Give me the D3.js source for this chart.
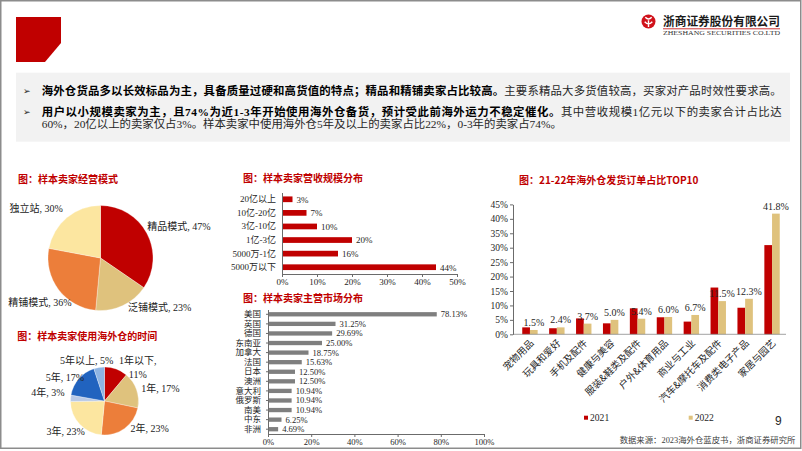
<!DOCTYPE html>
<html><head><meta charset="utf-8">
<script src="https://cdn.jsdelivr.net/npm/d3@7"></script>
<style>
html,body{margin:0;padding:0;background:#fff;}
svg{display:block;}
</style></head><body>
<svg id="c" width="802" height="451"></svg>
<script>
// ---------------- data ----------------
const modeLabels = ["精品模式","泛铺模式","精铺模式","独立站"];
const modeValues = [47,23,36,30];
const revenueCats = ["20亿以上","10亿-20亿","3亿-10亿","1亿-3亿","5000万-1亿","5000万以下"];
const revenueVals = [3,7,10,20,16,44];
const revenueTicks = [0,10,20,30,40,50];
const marketCats = ["美国","英国","德国","东南亚","加拿大","法国","日本","澳洲","意大利","俄罗斯","南美","中东","非洲"];
const marketVals = [78.13,31.25,29.69,25.00,18.75,15.63,12.50,12.50,10.94,10.94,10.94,6.25,4.69];
const marketTicks = [0,20,40,60,80,100];
const timeLabels = ["1年以下","1年","2年","3年","4年","5年","5年以上"];
const timeValues = [11,17,23,23,3,17,5];
const topCats = ["宠物用品","玩具和爱好","手机及配件","健康与美容","服装&鞋类及配件","户外&体育用品","商业与工业","汽车&摩托车及配件","消费类电子产品","家居与园艺"];
const top2021 = [2.4,2.1,5.5,3.8,9.0,5.9,4.4,16.2,9.2,30.9];
const top2022 = [1.5,2.4,3.7,5.0,5.4,6.0,6.7,11.5,12.3,41.8];
const topTicks = [0,5,10,15,20,25,30,35,40,45];
const topSeries = ["2021","2022"];

// ---------------- styles ----------------
const RED="#C00000", TAN="#DFC27D", ORANGE="#EC7E3A", LYEL="#FCE6A0";
const BLUE="#2163BF", LBLUE="#8EB4E3", GBLUE="#B8C9E6";
const serif = "'Liberation Serif','Noto Sans CJK SC',serif";
const cjk = "'Noto Sans CJK SC',sans-serif";
const svg = d3.select("#c");

// frame
svg.append("rect").attr("x",0.75).attr("y",0.75).attr("width",800).attr("height",447.5)
  .attr("fill","none").attr("stroke","#8c8c8c").attr("stroke-width",1.5);
// red corner block
svg.append("path").attr("d","M16,17H61V43L45,62H16Z").attr("fill",RED);

// logo
const lg = svg.append("g").attr("transform","translate(648.5,21.5)");
lg.append("circle").attr("r",7).attr("fill","#D0121B");
lg.append("path").attr("d","M-3.2,-4.2 Q0,-0.8 3.2,-4.2 M-3.8,0.2 Q0,4.6 3.8,0.2 M0,-1.2 V5.5")
  .attr("stroke","#fff").attr("fill","none").attr("stroke-width",1.4);
svg.append("text").attr("x",663).attr("y",26.3).attr("textLength",117).attr("lengthAdjust","spacingAndGlyphs")
  .style("font-family",cjk).style("font-weight","700").style("font-size","12px").attr("fill","#1a1a1a")
  .text("浙商证券股份有限公司");
svg.append("line").attr("x1",663).attr("x2",780).attr("y1",28.8).attr("y2",28.8).attr("stroke",RED).attr("stroke-width",0.8);
svg.append("text").attr("x",663).attr("y",35.3).attr("textLength",117).attr("lengthAdjust","spacingAndGlyphs")
  .style("font-family",serif).style("font-size","5.6px").attr("fill","#333")
  .text("ZHESHANG SECURITIES CO.LTD");

// text box
svg.append("rect").attr("x",16).attr("y",72.7).attr("width",774).attr("height",69).attr("fill","#F2F2F2");
const lines = [
  {y:95, bullet:true, len:740, parts:[["海外仓货品多以长效标品为主，具备质量过硬和高货值的特点；精品和精铺卖家占比较高。",true],["主要系精品大多货值较高，买家对产品时效性要求高。",false]]},
  {y:116, bullet:true, len:740, parts:[["用户以小规模卖家为主，且74%为近1-3年开始使用海外仓备货，预计受此前海外运力不稳定催化。",true],["其中营收规模1亿元以下的卖家合计占比达",false]]},
  {y:127.7, bullet:false, len:null, parts:[["60%，20亿以上的卖家仅占3%。样本卖家中使用海外仓5年及以上的卖家占比22%，0-3年的卖家占74%。",false]]}
];
lines.forEach(l=>{
  if(l.bullet) svg.append("text").attr("x",23).attr("y",l.y-1).style("font-family","'DejaVu Sans'")
    .style("font-size","9px").attr("fill","#222").text("➢");
  const t = svg.append("text").attr("x",41.7).attr("y",l.y).style("font-family",serif)
    .style("font-size","11.4px").attr("fill","#1a1a1a");
  if(l.len) t.attr("textLength",l.len).attr("lengthAdjust","spacing");
  l.parts.forEach(p=>t.append("tspan").style("font-weight",p[1]?"700":"400")
    .attr("fill",p[1]?"#000":"#262626").text(p[0]));
});

// chart titles
function title(x,cy,s){
  svg.append("text").attr("x",x).attr("y",cy+3.6).style("font-family",cjk).style("font-weight","700")
    .style("font-size","10px").attr("fill",RED).text(s);
}
title(18,179,"图：样本卖家经营模式");
title(243,178.3,"图：样本卖家营收规模分布");
title(243,298.3,"图：样本卖家主营市场分布");
title(17.3,336.7,"图：样本卖家使用海外仓的时间");
title(519,180.7,"图：21-22年海外仓发货订单占比TOP10");

// ---------------- pies ----------------
function drawPie(cx,cy,r,labels,values,colors,nudges,wrapIdx){
  const g = svg.append("g").attr("transform",`translate(${cx},${cy})`);
  const arcs = d3.pie().sort(null).value(d=>d)(values);
  const arc = d3.arc().innerRadius(0).outerRadius(r);
  g.selectAll("path").data(arcs).join("path").attr("d",arc)
    .attr("fill",(d,i)=>colors[i]).attr("stroke","#fff").attr("stroke-width",0.3);
  arcs.forEach((a,i)=>{
    const m=(a.startAngle+a.endAngle)/2;
    const dx=Math.sin(m), dy=-Math.cos(m);
    let x=dx*(r+5)+nudges[i][0], y=dy*(r+5)+nudges[i][1];
    const txt = g.append("text").style("font-family",serif).style("font-size","10px").attr("fill","#222");
    if(i===wrapIdx){
      txt.attr("text-anchor","middle");
      txt.append("tspan").attr("x",x).attr("y",y-7+3.5).text(labels[i]+",");
      txt.append("tspan").attr("x",x).attr("y",y+7+3.5).text(values[i]+"%");
    } else {
      txt.attr("x",x).attr("y",y+3.5).attr("text-anchor",dx>=0?"start":"end")
        .text(labels[i]+", "+values[i]+"%");
    }
  });
}
drawPie(100.5,258,52.5,modeLabels,modeValues,[RED,TAN,ORANGE,LYEL],
  [[-4,-5],[3,-3],[17,10],[-1,-5]],-1);
drawPie(104.5,401,34,timeLabels,timeValues,[RED,TAN,ORANGE,LYEL,GBLUE,BLUE,LBLUE],
  [[20,3],[0,0],[3,-4],[9,4],[-1,-5],[9,2],[15,-2.5]],0);

// ---------------- revenue bars ----------------
function styleAxis(g,fs){
  g.selectAll(".domain").attr("stroke","#6b6b6b");
  g.selectAll(".tick line").attr("stroke","#6b6b6b");
  g.selectAll("text").style("font-family",serif).style("font-size",fs).attr("fill","#262626");
}
{
  const x = d3.scaleLinear().domain([0,50]).range([282,457]);
  const y = d3.scaleBand().domain(revenueCats).range([192.5,274]).paddingInner(0.58).paddingOuter(0.29);
  svg.append("g").selectAll("rect").data(revenueVals).join("rect")
    .attr("x",x(0)).attr("y",(d,i)=>y(revenueCats[i])).attr("width",d=>x(d)-x(0))
    .attr("height",y.bandwidth()).attr("fill",RED);
  svg.append("g").selectAll("text").data(revenueVals).join("text")
    .attr("x",d=>x(d)+4).attr("y",(d,i)=>y(revenueCats[i])+y.bandwidth()/2+3.3)
    .style("font-family",serif).style("font-size","9px").attr("fill","#262626").text(d=>d+"%");
  const ga = svg.append("g").attr("transform","translate(282,0)")
    .call(d3.axisLeft(y).tickSize(0).tickPadding(6).tickSizeOuter(0));
  styleAxis(ga,"9px");
  const gb = svg.append("g").attr("transform","translate(0,274)")
    .call(d3.axisBottom(x).tickValues(revenueTicks).tickFormat(d=>d+"%").tickSize(3).tickPadding(2).tickSizeOuter(0));
  styleAxis(gb,"9px");
}

// ---------------- market bars ----------------
{
  const x = d3.scaleLinear().domain([0,100]).range([268,484]);
  const y = d3.scaleBand().domain(marketCats).range([309.5,434]).paddingInner(0.55).paddingOuter(0.275);
  svg.append("g").selectAll("rect").data(marketVals).join("rect")
    .attr("x",x(0)).attr("y",(d,i)=>y(marketCats[i])).attr("width",d=>x(d)-x(0))
    .attr("height",y.bandwidth()).attr("fill","#7F7F7F");
  svg.append("g").selectAll("text").data(marketVals).join("text")
    .attr("x",d=>x(d)+4).attr("y",(d,i)=>y(marketCats[i])+y.bandwidth()/2+3)
    .style("font-family",serif).style("font-size","8.6px").attr("fill","#262626").text(d=>d.toFixed(2)+"%");
  const ga = svg.append("g").attr("transform","translate(268,0)")
    .call(d3.axisLeft(y).tickSize(2).tickPadding(5).tickSizeOuter(0));
  styleAxis(ga,"8.5px");
  const gb = svg.append("g").attr("transform","translate(0,434)")
    .call(d3.axisBottom(x).tickValues(marketTicks).tickFormat(d=>d+"%").tickSize(3).tickPadding(2).tickSizeOuter(0));
  styleAxis(gb,"8.6px");
}

// ---------------- TOP10 grouped bars ----------------
{
  const x0 = d3.scaleBand().domain(topCats).range([516.5,785.5]);
  const bw = 7.7;
  const x1 = d3.scaleBand().domain(topSeries).range([x0.bandwidth()/2-bw, x0.bandwidth()/2+bw]);
  const y = d3.scaleLinear().domain([0,45]).range([334.3,204.4]);
  const series = [top2021, top2022];
  const cols = [RED, TAN];
  series.forEach((vals,s)=>{
    svg.append("g").selectAll("rect").data(vals).join("rect")
      .attr("x",(d,i)=>x0(topCats[i])+x1(topSeries[s])).attr("width",x1.bandwidth())
      .attr("y",d=>y(d)).attr("height",d=>y(0)-y(d)).attr("fill",cols[s]);
  });
  svg.append("line").attr("x1",513).attr("x2",786).attr("y1",y(0)).attr("y2",y(0)).attr("stroke","#8c8c8c").attr("stroke-width",0.8);
  const ga = svg.append("g").attr("transform","translate(513,0)")
    .call(d3.axisLeft(y).tickValues(topTicks).tickFormat(d=>d+"%").tickSize(3).tickPadding(2).tickSizeOuter(0));
  styleAxis(ga,"9.5px");
  svg.append("g").selectAll("text").data(top2022).join("text")
    .attr("x",(d,i)=>x0(topCats[i])+x1("2022")+x1.bandwidth()/2).attr("y",d=>y(d)-4)
    .attr("text-anchor","middle").style("font-family",serif).style("font-size","10px").attr("fill","#262626")
    .text(d=>d.toFixed(1)+"%");
  svg.append("g").selectAll("text").data(topCats).join("text")
    .attr("transform",d=>`translate(${x0(d)+x0.bandwidth()/2+2},${y(0)+7}) rotate(-45)`)
    .attr("text-anchor","end").attr("dy","0.35em")
    .style("font-family",cjk).style("font-size","9.7px").attr("fill","#262626").text(d=>d);
  // legend
  const lx = d3.scaleOrdinal().domain(topSeries).range([584,688.7]);
  topSeries.forEach((s,i)=>{
    svg.append("rect").attr("x",lx(s)).attr("y",415.7).attr("width",4).attr("height",4).attr("fill",cols[i]);
    svg.append("text").attr("x",lx(s)+6).attr("y",421).style("font-family",serif).style("font-size","9.6px")
      .attr("fill","#262626").text(s);
  });
}

// page number & source
svg.append("text").attr("x",775).attr("y",424.5).style("font-family","'Liberation Sans',Arial")
  .style("font-size","12px").attr("fill","#262626").text("9");
svg.append("text").attr("x",795.5).attr("y",443).attr("text-anchor","end").style("font-family",serif)
  .style("font-size","8.4px").attr("fill","#404040").text("数据来源：2023海外仓蓝皮书，浙商证券研究所");
</script>
</body></html>
